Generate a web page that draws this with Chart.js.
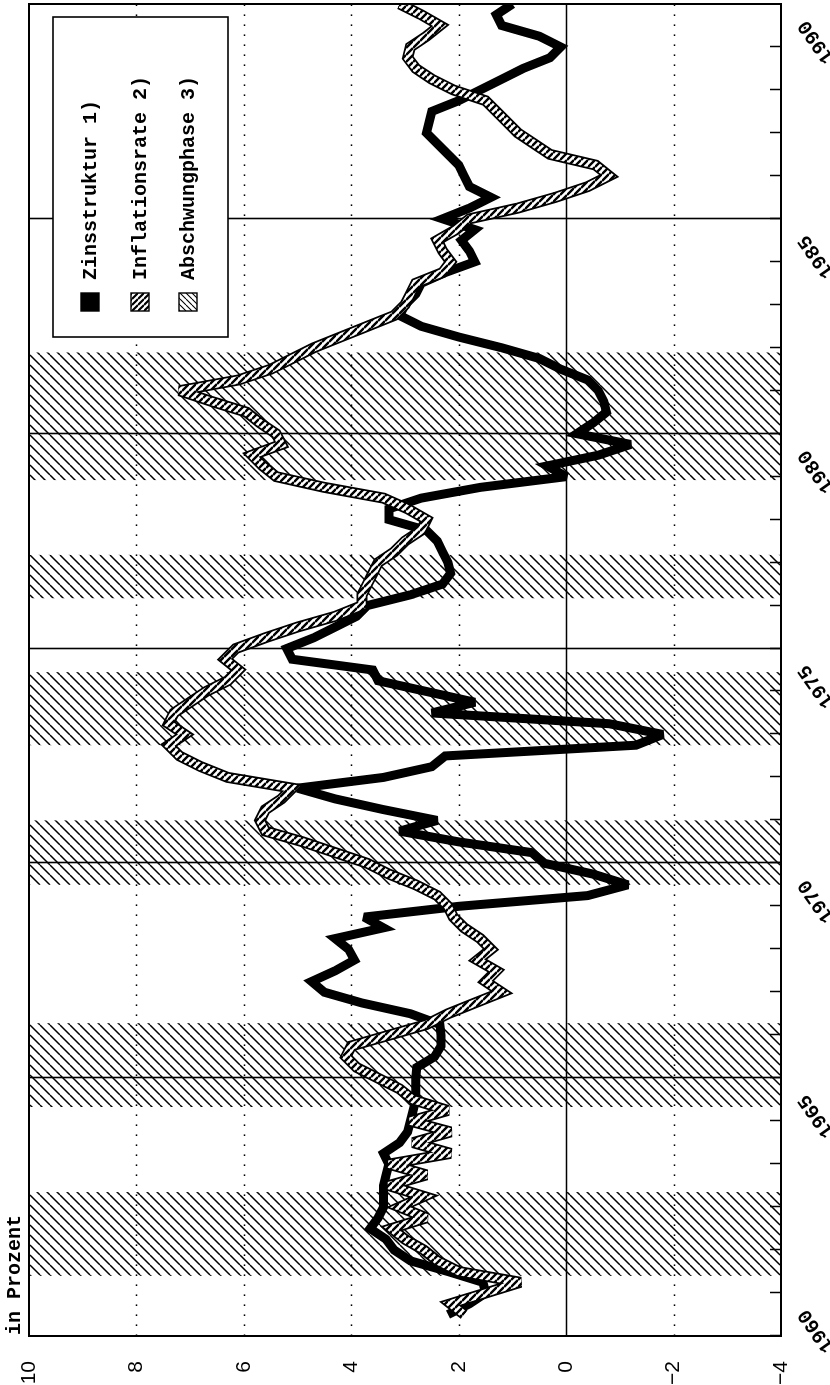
<!DOCTYPE html>
<html lang="de">
<head>
<meta charset="utf-8">
<title>Zinsstruktur, Inflationsrate und Abschwungphasen</title>
<script src="https://cdn.jsdelivr.net/npm/chart.js@4.4.1/dist/chart.umd.min.js"></script>
<style>
  html, body { margin: 0; padding: 0; background: #fff; overflow: hidden; }
  #blatt { position: relative; width: 830px; height: 1385px; overflow: hidden; background: #fff; }
  /* die Grafik liegt quer auf dem Blatt */
  #quer { position: absolute; left: 0; top: 0; width: 1385px; height: 830px;
          transform-origin: 0 0; transform: translate(0, 1385px) rotate(-90deg); }
</style>
</head>
<body>
<div id="blatt"><div id="quer"><canvas id="grafik" width="1385" height="830"></canvas></div></div>
<script>
// Quartalswerte ab 1959/III
const jahrStart = 1959.5;

// Zinsstruktur 1)
const zins = [
  2.2, 1.8,
  1.5, 1.55, 2.2, 2.9,      // 1960
  3.2, 3.35, 3.65, 3.5,     // 1961
  3.4, 3.4, 3.4, 3.35,      // 1962
  3.3, 3.4, 3.1, 2.95,      // 1963
  2.9, 2.85, 2.8, 2.8,      // 1964
  2.8, 2.78, 2.45, 2.33,    // 1965
  2.33, 2.35, 2.9, 3.8,     // 1966
  4.5, 4.74, 4.3, 3.94,     // 1967
  4.05, 4.3, 3.4, 3.76,     // 1968
  2.0, -0.4, -1.15, -0.5,   // 1969
  0.4, 0.64, 2.0, 3.1,      // 1970
  2.4, 3.4, 4.3, 5.0,       // 1971
  3.4, 2.5, 2.25, -1.3,     // 1972
  -1.8, -0.8, 2.5, 1.7,     // 1973
  2.6, 3.5, 3.6, 5.1,       // 1974
  5.2, 4.7, 4.3, 3.9,       // 1975
  3.7, 2.9, 2.3, 2.15,      // 1976
  2.2, 2.3, 2.4, 2.6,       // 1977
  3.3, 3.3, 2.7, 1.6,       // 1978
  0.0, 0.35, -0.6, -1.2,    // 1979
  -0.2, -0.5, -0.75, -0.7,  // 1980
  -0.6, -0.4, 0.1, 0.5,     // 1981
  1.2, 2.0, 2.7, 3.1,       // 1982
  3.0, 2.8, 2.7, 2.25,      // 1983
  1.7, 1.8, 1.95, 1.7,      // 1984
  2.3, 1.8, 1.4, 1.8,       // 1985
  1.9, 2.0, 2.2, 2.4,       // 1986
  2.6, 2.55, 2.5, 2.0,      // 1987
  1.6, 1.2, 0.8, 0.3,       // 1988
  0.1, 0.5, 1.2, 1.3,       // 1989
  1.0
];

// Inflationsrate 2)
const inflation = [
  1.9, 2.15,
  1.5, 0.85, 2.0, 2.4,      // 1960
  2.65, 3.0, 3.25, 2.6,     // 1961
  3.1, 2.65, 3.3, 2.6,      // 1962
  3.3, 2.15, 2.85, 2.15,    // 1963
  2.9, 2.2, 2.85, 3.1,      // 1964
  3.5, 3.9, 4.1, 4.0,       // 1965
  3.3, 2.6, 2.2, 1.7,       // 1966
  1.2, 1.5, 1.3, 1.65,      // 1967
  1.4, 1.6, 1.9, 2.1,       // 1968
  2.2, 2.4, 2.8, 3.3,       // 1969
  3.7, 4.3, 4.9, 5.6,       // 1970
  5.7, 5.6, 5.3, 5.1,       // 1971
  6.3, 6.8, 7.2, 7.4,       // 1972
  7.1, 7.4, 7.3, 7.0,       // 1973
  6.7, 6.3, 6.1, 6.35,      // 1974
  6.15, 5.6, 5.0, 4.3,      // 1975
  3.8, 3.8, 3.7, 3.6,       // 1976
  3.5, 3.2, 3.0, 2.7,       // 1977
  2.6, 2.95, 3.4, 4.5,      // 1978
  5.4, 5.65, 5.85, 5.3,     // 1979
  5.4, 5.7, 5.95, 6.6,      // 1980
  7.2, 6.1, 5.5, 5.1,       // 1981
  4.7, 4.2, 3.7, 3.2,       // 1982
  3.0, 2.9, 2.8, 2.3,       // 1983
  2.15, 2.3, 2.4, 2.05,     // 1984
  1.8, 0.9, 0.2, -0.4,      // 1985
  -0.8, -0.55, 0.3, 0.6,    // 1986
  0.9, 1.1, 1.3, 1.5,       // 1987
  2.1, 2.5, 2.8, 2.95,      // 1988
  2.9, 2.6, 2.35, 2.7,      // 1989
  3.1
];

// Abschwungphase 3): Beginn und Ende
const abschwung = [
  [1960.4, 1962.35],
  [1964.33, 1966.28],
  [1969.5, 1971.0],
  [1972.75, 1974.45],
  [1976.17, 1977.18],
  [1978.92, 1981.89]
];

const jahreMarken = [1960, 1965, 1970, 1975, 1980, 1985, 1990];
const jahreLinien = [1965, 1970, 1975, 1980, 1985];
const werteTicks = [10, 8, 6, 4, 2, 0, -2, -4];
const legende = ['Zinsstruktur 1)', 'Inflationsrate 2)', 'Abschwungphase 3)'];

const zeit = zins.map((_, i) => jahrStart + i / 4);
const punkte = werte => werte.map((v, i) => ({ x: zeit[i], y: v }));

// Schraffuren
function schraffur(groesse, breite, richtung, grund) {
  const c = document.createElement('canvas');
  c.width = c.height = groesse;
  const g = c.getContext('2d');
  if (grund) { g.fillStyle = grund; g.fillRect(0, 0, groesse, groesse); }
  g.strokeStyle = '#000';
  g.lineWidth = breite;
  g.beginPath();
  for (let k = -1; k <= 1; k++) {
    if (richtung === '/') {
      g.moveTo(k * groesse, groesse);
      g.lineTo(k * groesse + groesse, 0);
    } else {
      g.moveTo(k * groesse, 0);
      g.lineTo(k * groesse + groesse, groesse);
    }
  }
  g.stroke();
  return g.createPattern(c, 'repeat');
}

const ctx = document.getElementById('grafik').getContext('2d');
const baenderMuster = schraffur(10, 1.5, '/', null);
const inflMuster = schraffur(7, 2.4, '\\', '#fff');
const legendeBand = schraffur(6, 1.1, '/', '#fff');
const legendeInfl = schraffur(6, 2.2, '\\', '#fff');

const monoFont = '"Liberation Mono", "DejaVu Sans Mono", monospace';

const rahmen = {
  id: 'rahmen',
  beforeDatasetsDraw(chart) {
    const { ctx, chartArea: a, scales: { x, y } } = chart;
    ctx.save();
    // Abschwungphasen
    ctx.fillStyle = baenderMuster;
    abschwung.forEach(([von, bis]) => {
      const x1 = x.getPixelForValue(von);
      const x2 = x.getPixelForValue(bis);
      ctx.fillRect(x1, a.top, x2 - x1, a.bottom - a.top);
    });
    // Werte-Gitter
    ctx.strokeStyle = '#000';
    werteTicks.forEach(v => {
      if (v === 10 || v === -4) return;
      const py = Math.round(y.getPixelForValue(v)) + 0.5;
      ctx.lineWidth = v === 0 ? 1.4 : 1.6;
      ctx.setLineDash(v === 0 ? [] : [1.6, 8.4]);
      ctx.beginPath();
      ctx.moveTo(a.left, py);
      ctx.lineTo(a.right, py);
      ctx.stroke();
    });
    ctx.setLineDash([]);
    // Jahreslinien
    ctx.lineWidth = 1.6;
    jahreLinien.forEach(j => {
      const px = Math.round(x.getPixelForValue(j)) + 0.5;
      ctx.beginPath();
      ctx.moveTo(px, a.top);
      ctx.lineTo(px, a.bottom);
      ctx.stroke();
    });
    // Jahresmarken innen
    ctx.lineWidth = 1.5;
    for (let j = Math.ceil(x.min); j < x.max; j++) {
      const px = Math.round(x.getPixelForValue(j)) + 0.5;
      ctx.beginPath();
      ctx.moveTo(px, a.bottom);
      ctx.lineTo(px, a.bottom - 11);
      ctx.stroke();
    }
    ctx.restore();
    // spitze Ecken der dicken Linien begrenzen
    ctx.miterLimit = 3;
  },
  afterDatasetsDraw(chart) {
    const { ctx, chartArea: a } = chart;
    ctx.miterLimit = 10;
    ctx.save();
    // Rahmen
    ctx.strokeStyle = '#000';
    ctx.lineWidth = 2;
    ctx.strokeRect(a.left, a.top, a.right - a.left, a.bottom - a.top);

    // Legende
    const lx = 1048, ly = 53, lw = 320, lh = 175;
    ctx.fillStyle = '#fff';
    ctx.fillRect(lx, ly, lw, lh);
    ctx.lineWidth = 1.6;
    ctx.strokeRect(lx, ly, lw, lh);
    const zeilen = [90, 140, 188];
    const fuellung = ['#000', legendeInfl, legendeBand];
    ctx.font = 'bold 20px ' + monoFont;
    ctx.textBaseline = 'middle';
    ctx.textAlign = 'left';
    zeilen.forEach((zy, i) => {
      ctx.fillStyle = fuellung[i];
      ctx.fillRect(1074, zy - 9, 18, 18);
      ctx.lineWidth = 1.4;
      ctx.strokeRect(1074, zy - 9, 18, 18);
      ctx.fillStyle = '#000';
      ctx.fillText(legende[i], 1105, zy + 1);
    });

    // Einheit
    ctx.font = 'bold 20px ' + monoFont;
    ctx.fillText('in Prozent', 50, 15);
    ctx.restore();
  }
};

new Chart(ctx, {
  type: 'line',
  data: {
    datasets: [
      {
        label: legende[1],
        data: punkte(inflation),
        borderColor: inflMuster,
        borderWidth: 7.5,
        pointRadius: 0,
        tension: 0,
        borderJoinStyle: 'miter'
      },
      {
        label: legende[1] + ' Rand',
        data: punkte(inflation),
        borderColor: '#000',
        borderWidth: 11,
        pointRadius: 0,
        tension: 0,
        borderJoinStyle: 'miter'
      },
      {
        label: legende[0],
        data: punkte(zins),
        borderColor: '#000',
        borderWidth: 9,
        pointRadius: 0,
        tension: 0,
        borderJoinStyle: 'miter'
      }
    ]
  },
  options: {
    responsive: false,
    animation: false,
    devicePixelRatio: 1,
    events: [],
    layout: { padding: { top: 29, right: 4, left: 0, bottom: 0 } },
    plugins: {
      legend: { display: false },
      tooltip: { enabled: false }
    },
    scales: {
      x: {
        type: 'linear',
        min: 1959,
        max: 1990,
        grid: { display: false },
        border: { display: false },
        ticks: {
          stepSize: 1,
          autoSkip: false,
          minRotation: 35,
          maxRotation: 35,
          padding: 4,
          labelOffset: -18,
          color: '#000',
          font: { family: monoFont, size: 20, weight: 'bold' },
          callback: v => jahreMarken.includes(v) ? String(v) : ''
        },
        afterFit(scale) {
          scale.height = 49;
          scale.paddingLeft = 0;
          scale.paddingRight = 0;
        }
      },
      y: {
        min: -4,
        max: 10,
        grid: { display: false },
        border: { display: false },
        ticks: {
          stepSize: 2,
          padding: 17,
          color: '#000',
          font: { family: '"Liberation Sans", Arial, sans-serif', size: 21 },
          callback: v => v < 0 ? '\u2212' + Math.abs(v) : String(v)
        },
        afterFit(scale) {
          scale.width = 49;
          scale.paddingTop = 0;
          scale.paddingBottom = 0;
        }
      }
    }
  },
  plugins: [rahmen]
});
</script>
</body>
</html>
